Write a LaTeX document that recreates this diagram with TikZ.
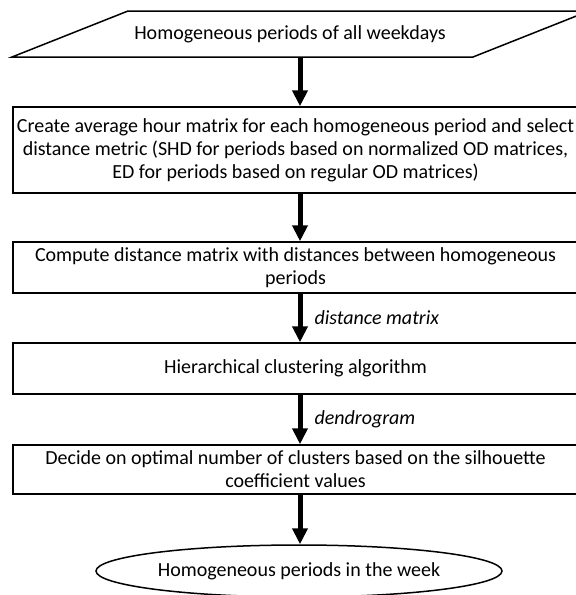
\documentclass[tikz,border=0pt]{standalone}
\usepackage{fontspec}
\setmainfont{Carlito}
\usetikzlibrary{shapes.geometric,arrows.meta}
\begin{document}
\begin{tikzpicture}[x=1pt,y=-1pt,
  txt/.style={font=\fontsize{20}{23}\selectfont},
  box/.style={draw, line width=1.5pt, rectangle, inner sep=0pt, align=center, txt},
  flow/.style={line width=5pt, -{Triangle[length=16pt,width=15pt]}},
  lbl/.style={font=\fontsize{20}{23}\selectfont\itshape, anchor=west, inner sep=0pt}]
\clip (0,0) rectangle (576,595);
\coordinate (ax) at (300,0);
% input parallelogram
\draw[line width=1.5pt] (128,11) -- (589,11) -- (473,57) -- (12,57) -- cycle;
\node[txt, minimum width=340pt, minimum height=46pt, inner sep=0pt] (par) at (290,34) {Homogeneous periods of all weekdays};
% boxes
\node[box, minimum width=565pt, minimum height=86pt] (r1) at (295.5,150)
  {Create average hour matrix for each homogeneous period and select\\
   distance metric (SHD for periods based on normalized OD matrices,\\
   ED for periods based on regular OD matrices)};
\node[box, minimum width=565pt, minimum height=51pt] (r2) at (295.5,267.5)
  {Compute distance matrix with distances between homogeneous\\ periods};
\node[box, minimum width=565pt, minimum height=51pt] (r3) at (295.5,368.5)
  {Hierarchical clustering algorithm};
\node[box, minimum width=565pt, minimum height=49pt] (r4) at (295.5,469.5)
  {Decide on optimal number of clusters based on the silhouette\\ coefficient values};
\node[draw, line width=1.5pt, ellipse, minimum width=406pt, minimum height=52pt, inner sep=0pt, txt] (out) at (299,571)
  {Homogeneous periods in the week};
% connectors
\draw[flow] (par.south -| ax) -- (r1.north -| ax);
\draw[flow] (r1.south -| ax) -- (r2.north -| ax);
\draw[flow] (r2.south -| ax) -- (r3.north -| ax) node[lbl, midway, xshift=12pt] {distance matrix};
\draw[flow] (r3.south -| ax) -- (r4.north -| ax) node[lbl, midway, xshift=12pt] {dendrogram};
\draw[flow] (r4.south -| ax) -- (out.north -| ax);
\end{tikzpicture}
\end{document}
